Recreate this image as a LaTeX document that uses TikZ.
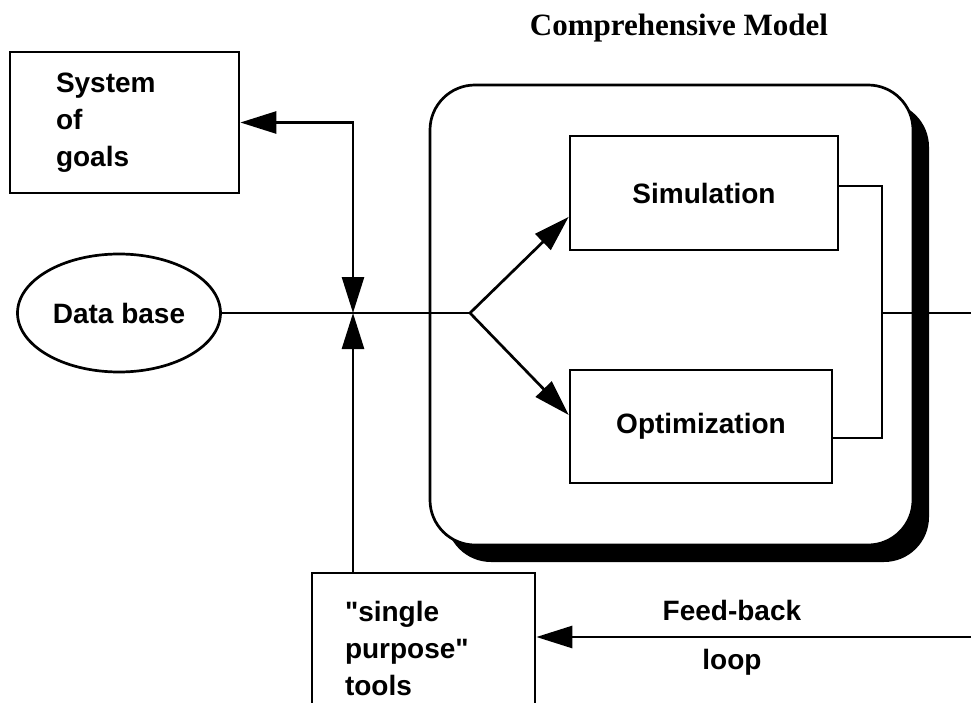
\documentclass[tikz,border=0pt]{standalone}
\usepackage{fontspec}
\setmainfont{Liberation Serif}
\setsansfont{Liberation Sans}
\usetikzlibrary{arrows.meta,shapes.geometric,shadows}

\begin{document}
\begin{tikzpicture}[x=1pt,y=-1pt,>={Triangle[length=36pt,width=22pt]},
                    line width=2.7pt,
                    font=\sffamily\bfseries\fontsize{28}{37}\selectfont]
  \tikzstyle{every node}=[inner sep=0pt]
  \tikzstyle{block}=[draw,rectangle]

  \useasboundingbox (0,0) rectangle (971,703);
  \clip (0,0) rectangle (971,703);

  \node[font=\rmfamily\bfseries\fontsize{31}{36}\selectfont] (title) at (679,28) {Comprehensive Model};

  \node[draw,rounded corners=45pt,fill=white,minimum width=483pt,minimum height=460pt,
        drop shadow={shadow xshift=16pt,shadow yshift=-17pt,fill=black,opacity=1}] (model) at (671.5,315) {};

  \node[block,text width=137pt,inner xsep=46pt,minimum height=141pt,align=left] (goals) at (124.5,122.5) {System\\of\\goals};
  \node[draw,ellipse,minimum width=203pt,minimum height=118pt] (db) at (119,313) {Data base};
  \node[block,minimum width=268pt,minimum height=114pt] (sim) at (704,193) {Simulation};
  \node[block,minimum width=262pt,minimum height=113pt] (opt) at (701,426.5) {Optimization};
  \node[block,text width=157pt,inner xsep=33pt,minimum height=150pt,align=left] (tools) at (423.5,648)
    {\textquotedbl single\\purpose\textquotedbl\\tools};

  \coordinate (junc) at (353,313);
  \coordinate (fork) at (470,313);
  \coordinate (rjoin) at (882,313);
  \coordinate (outR) at (971,313);
  \coordinate (fbR) at (971,637);

  \draw (db) -- (fork);
  \draw[<->] (goals.east) -| (junc);
  \draw[->] (tools.north -| junc) -- (junc);
  \path[->] (fork) edge (sim.190)
                   edge (opt.175);
  \draw (sim.3) -| (rjoin) |- (opt.355);
  \draw (rjoin) -- (outR);
  \draw[->] (fbR) -- (fbR -| tools.east)
    node[pos=0.55,above=15pt] {Feed-back}
    node[pos=0.55,below=11pt] {loop};
\end{tikzpicture}
\end{document}
